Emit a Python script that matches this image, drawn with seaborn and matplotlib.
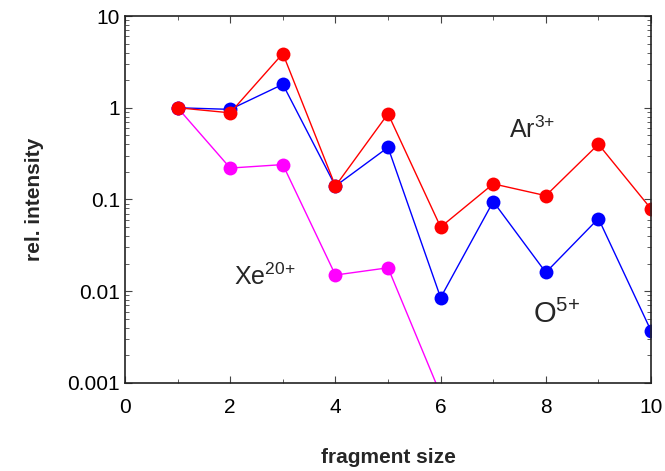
import matplotlib
matplotlib.use("Agg")
import matplotlib.pyplot as plt
import matplotlib.ticker as mticker
import seaborn as sns
import pandas as pd

# fragment sizes
sizes = [1, 2, 3, 4, 5, 6, 7, 8, 9, 10]

# relative intensities
ar3 = [1.0, 0.88, 3.9, 0.14, 0.86, 0.050, 0.148, 0.11, 0.40, 0.079]
o5 = [1.0, 0.96, 1.8, 0.14, 0.37, 0.0085, 0.095, 0.016, 0.062, 0.0037]
xe20 = [1.0, 0.22, 0.24, 0.015, 0.018, 0.00075]

sns.set_style("ticks")
plt.rcParams["font.family"] = ["Liberation Sans", "DejaVu Sans"]
plt.rcParams["mathtext.fontset"] = "custom"
plt.rcParams["mathtext.rm"] = "Liberation Sans"
plt.rcParams["mathtext.it"] = "Liberation Sans"

df = pd.concat([
    pd.DataFrame({"size": sizes[:len(xe20)], "intensity": xe20, "ion": "Xe20+"}),
    pd.DataFrame({"size": sizes, "intensity": o5, "ion": "O5+"}),
    pd.DataFrame({"size": sizes, "intensity": ar3, "ion": "Ar3+"}),
])
colors = {"Xe20+": "#ff00ff", "O5+": "#0000ff", "Ar3+": "#ff0000"}

fig = plt.figure(figsize=(6.65, 4.71), dpi=100)
ax = fig.add_axes([0.188, 0.187, 0.791, 0.779])

for ion in ["Xe20+", "O5+", "Ar3+"]:
    sub = df[df["ion"] == ion]
    sns.lineplot(data=sub, x="size", y="intensity", color=colors[ion],
                 marker="o", markersize=10, markeredgewidth=0, linewidth=1,
                 ax=ax, legend=False)

ax.set_yscale("log")
ax.set_xlim(0, 10)
ax.set_ylim(0.001, 10)
ax.xaxis.set_major_locator(mticker.MultipleLocator(2))
ax.xaxis.set_minor_locator(mticker.MultipleLocator(1))
ax.yaxis.set_major_formatter(mticker.FuncFormatter(lambda v, p: f"{v:g}"))
ax.yaxis.set_minor_formatter(mticker.NullFormatter())
ax.tick_params(which="both", direction="in", top=True, right=True,
               labelsize=15, color="#444444", labelcolor="black")
ax.tick_params(which="major", length=5)
ax.tick_params(which="minor", length=3)
ax.tick_params(axis="x", pad=11)
for s in ax.spines.values():
    s.set_color("#222222")
    s.set_linewidth(1.2)

ax.set_xlabel("fragment size", fontsize=15, fontweight="bold", labelpad=22)
ax.set_ylabel("rel. intensity", fontsize=15, fontweight="bold", labelpad=17)

ax.text(7.3, 0.47, r"Ar$^{3{+}}$", fontsize=18)
ax.text(2.08, 0.0118, r"Xe$^{20{+}}$", fontsize=18)
ax.text(7.75, 0.0045, r"O$^{5{+}}$", fontsize=21)

fig.savefig("out.png", dpi=100)
plt.close(fig)
